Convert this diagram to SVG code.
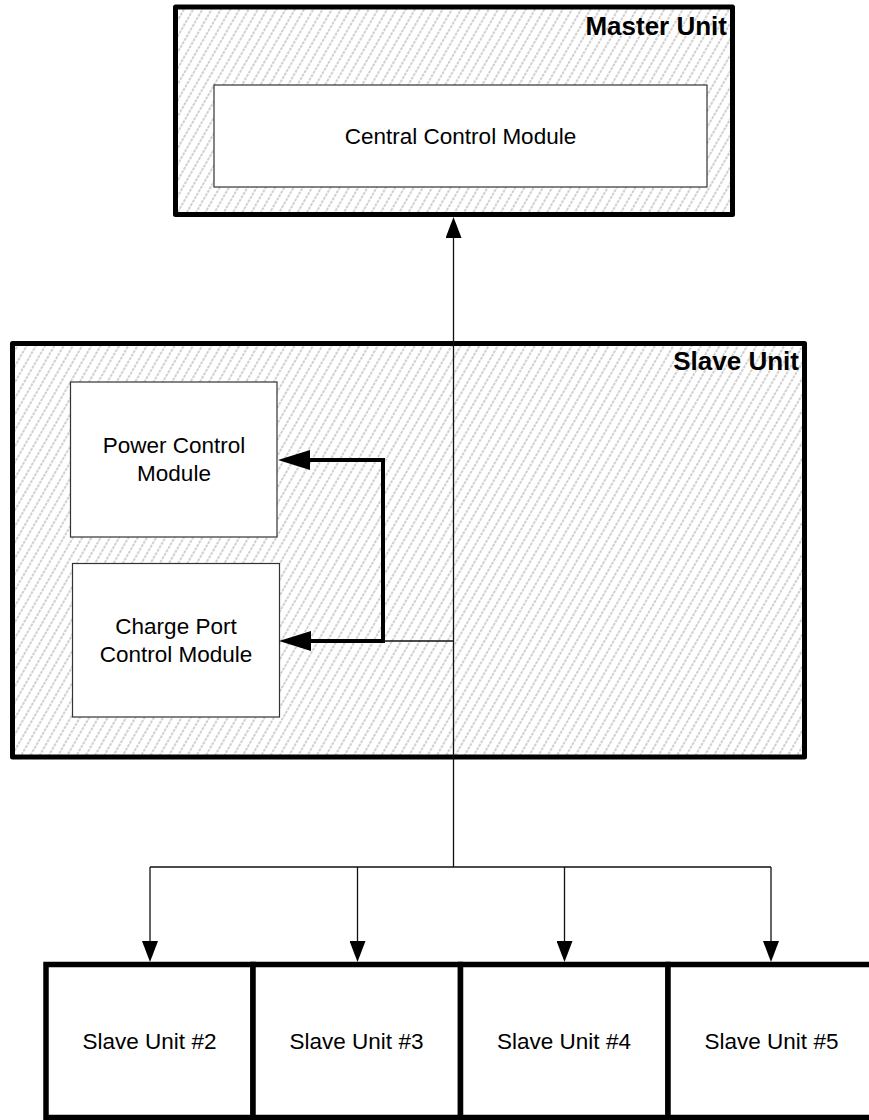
<svg xmlns="http://www.w3.org/2000/svg" width="869" height="1120" viewBox="0 0 869 1120">
<style>
.t{font-family:"Liberation Sans",Arial,sans-serif;font-size:22.5px;fill:#000;text-anchor:middle}
.tb{font-family:"Liberation Sans",Arial,sans-serif;font-size:26px;font-weight:bold;fill:#000;text-anchor:end}
.unit{fill:url(#hatch);stroke:#000;stroke-width:5;stroke-linejoin:round}
.mod{fill:#fff;stroke:#333;stroke-width:1.2}
.sbox{fill:#fff;stroke:#000;stroke-width:5.5}
.thin{fill:none;stroke:#111;stroke-width:1.3}
.bus{fill:none;stroke:#000;stroke-width:4;stroke-linejoin:miter}
</style>
<defs>
<pattern id="hatch" patternUnits="userSpaceOnUse" width="8" height="8" patternTransform="rotate(30)">
<rect width="8" height="8" fill="#fff"/>
<line x1="4" y1="0" x2="4" y2="8" stroke="#acacac" stroke-width="1.1" stroke-dasharray="3,1"/>
</pattern>
<marker id="ah" viewBox="0 0 21 16" refX="0" refY="8" markerWidth="21" markerHeight="16" markerUnits="userSpaceOnUse" orient="auto">
<path d="M0,0 L21,8 L0,16 Z" fill="#000"/>
</marker>
<marker id="ahb" viewBox="0 0 32 20" refX="0" refY="10" markerWidth="32" markerHeight="20" markerUnits="userSpaceOnUse" orient="auto-start-reverse">
<path d="M0,0 L32,10 L0,20 Z" fill="#000"/>
</marker>
</defs>
<rect width="869" height="1120" fill="#fff"/>

<g id="master-unit">
<rect class="unit" x="175.5" y="7" width="557" height="207.5"/>
<text class="tb" x="727" y="35">Master Unit</text>
</g>
<g id="central-control-module">
<rect class="mod" x="214" y="85" width="493" height="102"/>
<text class="t" x="460.5" y="144">Central Control Module</text>
</g>

<g id="slave-unit">
<rect class="unit" x="12.5" y="343.5" width="792" height="413.5"/>
<text class="tb" x="799" y="370">Slave Unit</text>
</g>
<g id="power-control-module">
<rect class="mod" x="70.5" y="382" width="206.5" height="155"/>
<text class="t" x="174" y="453">Power Control</text>
<text class="t" x="174" y="481">Module</text>
</g>
<g id="charge-port-control-module">
<rect class="mod" x="72.5" y="563.5" width="207" height="153.5"/>
<text class="t" x="176" y="634">Charge Port</text>
<text class="t" x="176" y="662">Control Module</text>
</g>

<g id="slave-unit-2">
<rect class="sbox" x="46" y="964.5" width="207" height="153"/>
<text class="t" x="149.5" y="1049">Slave Unit #2</text>
</g>
<g id="slave-unit-3">
<rect class="sbox" x="253" y="964.5" width="207.5" height="153"/>
<text class="t" x="356.5" y="1049">Slave Unit #3</text>
</g>
<g id="slave-unit-4">
<rect class="sbox" x="460.5" y="964.5" width="207.5" height="153"/>
<text class="t" x="564" y="1049">Slave Unit #4</text>
</g>
<g id="slave-unit-5">
<rect class="sbox" x="668" y="964.5" width="210" height="153"/>
<text class="t" x="771.5" y="1049">Slave Unit #5</text>
</g>

<g id="connectors">
<path class="bus" d="M310,460 H383 V641 H311" marker-start="url(#ahb)" marker-end="url(#ahb)"/>
<path class="thin" d="M383,641 H453.5"/>
<path class="thin" d="M453.5,867 V238" marker-end="url(#ah)"/>
<path class="thin" d="M150,867 H771"/>
<path class="thin" d="M150,867 V941" marker-end="url(#ah)"/>
<path class="thin" d="M357.5,867 V941" marker-end="url(#ah)"/>
<path class="thin" d="M564.5,867 V941" marker-end="url(#ah)"/>
<path class="thin" d="M771,867 V941" marker-end="url(#ah)"/>
</g>
</svg>
